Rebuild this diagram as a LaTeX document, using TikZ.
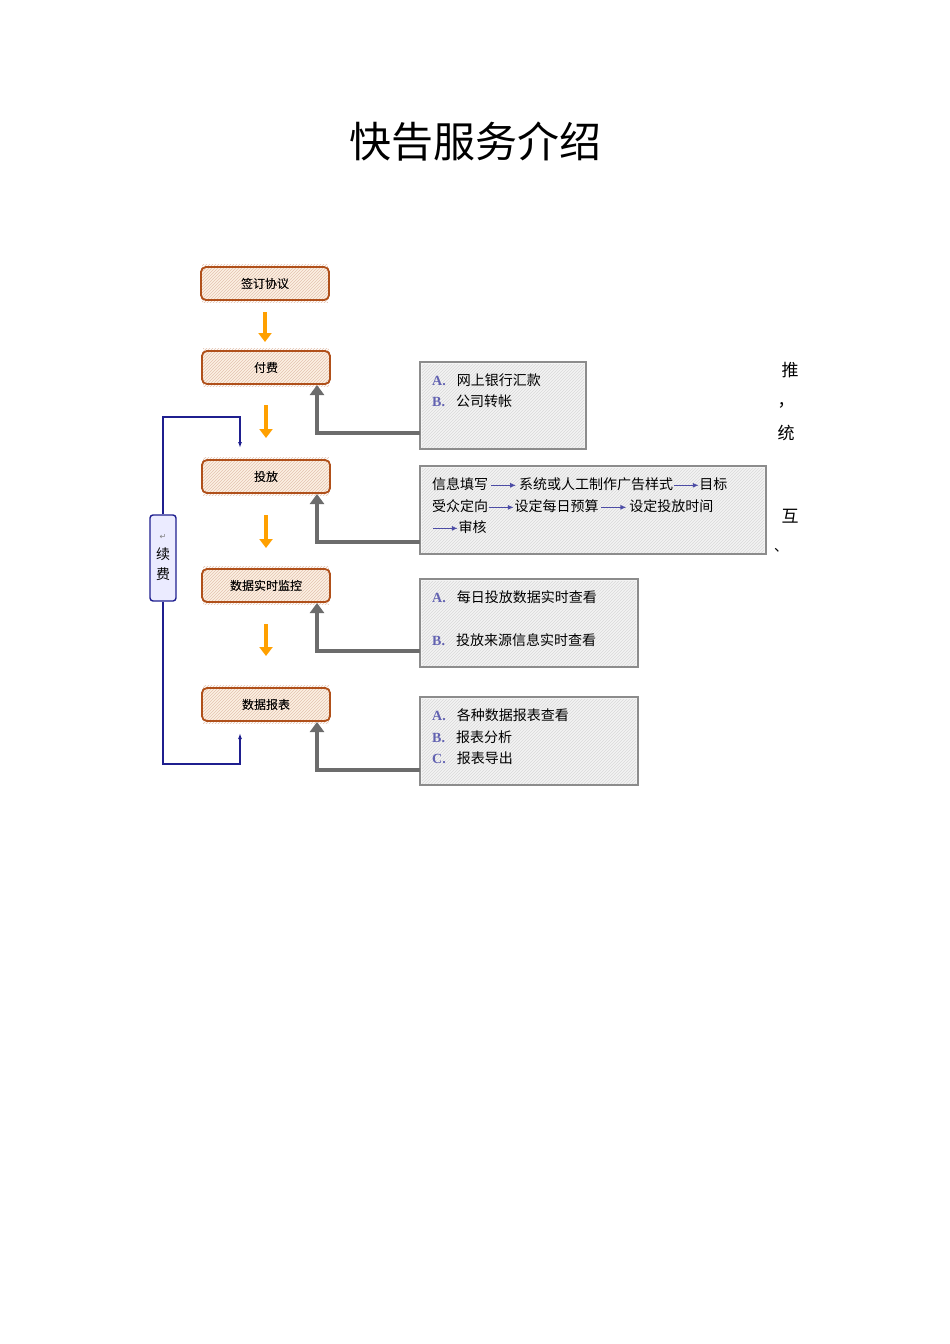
\documentclass[tikz,border=0pt]{standalone}
\usepackage{fontspec}
\setmainfont{Noto Sans CJK SC}
\newfontfamily\lat{Liberation Serif}
\newfontfamily\dv{DejaVu Sans}
\usetikzlibrary{patterns,arrows.meta}
\definecolor{obrd}{HTML}{B0501A}
\definecolor{ofill}{HTML}{FDF1E4}
\definecolor{oarr}{HTML}{FFA000}
\definecolor{gbrd}{HTML}{8C8C8C}
\definecolor{gfill}{HTML}{F4F4F4}
\definecolor{bl}{HTML}{1F1F8F}
\tikzset{
 stepbox/.style={draw=obrd,line width=1.6pt,rounded corners=5pt,fill=ofill,minimum width=128pt,minimum height=33pt,font=\fontsize{12}{14}\selectfont,inner sep=0pt},
 infobox/.style={draw=gbrd,line width=2.2pt,fill=gfill},
 oarrow/.style={draw=oarr,line width=3.5pt,-{Triangle[width=13pt,length=9pt]}},
 garrow/.style={draw=gray!85!black,line width=4pt,-{Triangle[width=14pt,length=10pt]}},
 barrow/.style={draw=bl,line width=1.4pt,-{Latex[length=6pt,width=4pt]}},
 itxt/.style={anchor=west,font=\fontsize{14}{16}\selectfont,inner sep=0pt}
}
\begin{document}
\begin{tikzpicture}[x=1pt,y=-1pt]
\useasboundingbox[fill=white] (0,0) rectangle (950,1344);
\node (title) at (475,142) {\fontsize{42}{48}\selectfont 快告服务介绍};
\node[stepbox] (s1) at (265,283.5) {签订协议};
\node[stepbox] (s2) at (266,367.5) {付费};
\node[stepbox] (s3) at (266,476.5) {投放};
\node[stepbox] (s4) at (266,585.5) {数据实时监控};
\node[stepbox] (s5) at (266,704.5) {数据报表};
\foreach \n in {s1,s2,s3,s4,s5}{\fill[pattern=north east lines,pattern color=obrd!35] ([shift={(2,-2)}]\n.north west) rectangle ([shift={(-2,2)}]\n.south east);}
\foreach \n in {s1,s2,s3,s4,s5}{\node[font=\fontsize{12}{14}\selectfont] at (\n) {\phantom{x}};}
\node[stepbox,fill=none] at (s1) {签订协议};
\node[stepbox,fill=none] at (s2) {付费};
\node[stepbox,fill=none] at (s3) {投放};
\node[stepbox,fill=none] at (s4) {数据实时监控};
\node[stepbox,fill=none] at (s5) {数据报表};
\coordinate (o1) at (265,312); \coordinate (o1e) at (265,342);
\coordinate (o2) at (266,405); \coordinate (o2e) at (266,438);
\coordinate (o3) at (266,515); \coordinate (o3e) at (266,548);
\coordinate (o4) at (266,624); \coordinate (o4e) at (266,656);
\draw[oarrow] (o1) -- (o1e);
\draw[oarrow] (o2) -- (o2e);
\draw[oarrow] (o3) -- (o3e);
\draw[oarrow] (o4) -- (o4e);
% info boxes
\draw[infobox] (420,362) rectangle (586,449);
\draw[infobox] (420,466) rectangle (766,554);
\draw[infobox] (420,579) rectangle (638,667);
\draw[infobox] (420,697) rectangle (638,785);
\foreach \r in {{(422,364) rectangle (584,447)},{(422,468) rectangle (764,552)},{(422,581) rectangle (636,665)},{(422,699) rectangle (636,783)}}{\fill[pattern=north east lines,pattern color=gray!30] \r;}
\coordinate (g1) at (420,433); \coordinate (g2) at (420,542); \coordinate (g3) at (420,651); \coordinate (g4) at (420,770);
\draw[garrow] (g1) -| (317,385);
\draw[garrow] (g2) -| (317,494);
\draw[garrow] (g3) -| (317,603);
\draw[garrow] (g4) -| (317,722);
% texts
\newcommand\lb[1]{{\lat\bfseries\color{bl!70!white}#1}\hspace{11pt}}
\node[itxt] at (432,380) {\lb{A.}网上银行汇款};
\node[itxt] at (432,401) {\lb{B.}公司转帐};
\newcommand\ba{\tikz[baseline=-4pt,x=1pt,y=1pt]\draw[bl!80!white,line width=1.3pt,-{Latex[length=6pt,width=5pt]}](0,0)--(25,0);}
\node[itxt] at (432,484) {信息填写\,\ba\,系统或人工制作广告样式\ba 目标};
\node[itxt] at (432,506) {受众定向\ba 设定每日预算\,\ba\,设定投放时间};
\node[itxt] at (432,527) {\ba 审核};
\node[itxt] at (432,597) {\lb{A.}每日投放数据实时查看};
\node[itxt] at (432,640) {\lb{B.}投放来源信息实时查看};
\node[itxt] at (432,715) {\lb{A.}各种数据报表查看};
\node[itxt] at (432,737) {\lb{B.}报表分析};
\node[itxt] at (432,758) {\lb{C.}报表导出};
% renewal
\node[draw=bl,line width=1.4pt,fill=blue!8,rounded corners=3pt,minimum width=26pt,minimum height=86pt,inner sep=0pt,align=center,font=\fontsize{14}{20}\selectfont] (xf) at (163,558) {{\dv\fontsize{8}{8}\selectfont\color{gray}↵}\\续\\费};
\draw[barrow] (xf.north) |- (240,417) -- (240,448);
\draw[barrow] (xf.south) |- (240,764) -- (240,733);
% stray text
\node[font=\fontsize{17}{18}\selectfont] (t1) at (790,370) {推};
\node[font=\fontsize{17}{18}\selectfont] (t2) at (786,405) {，};
\node[font=\fontsize{17}{18}\selectfont] (t3) at (786,433) {统};
\node[font=\fontsize{17}{18}\selectfont] (t4) at (790,516) {互};
\node[font=\fontsize{14}{16}\selectfont] (t5) at (781,550) {、};
\end{tikzpicture}
\end{document}
